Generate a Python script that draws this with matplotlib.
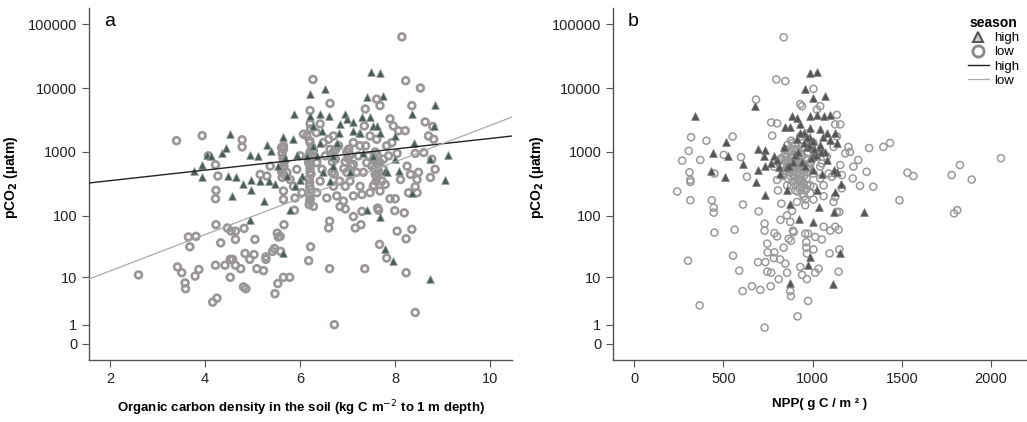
import numpy as np
import matplotlib
matplotlib.use("Agg")
import matplotlib.pyplot as plt
from matplotlib.lines import Line2D

plt.rcParams['font.family'] = ['Liberation Sans', 'DejaVu Sans']

# ---- panel a: soil organic carbon density (kg C m-2) vs pCO2 (uatm) ----
soc_low = [2.6, 3.40, 3.94, 3.42, 3.51, 3.58, 3.59, 3.65, 3.68, 3.81, 3.79, 3.87, 4.16, 4.25, 4.23, 4.22,
           4.23, 4.22, 4.22, 4.27, 4.07, 4.33, 4.42, 4.47, 4.53, 4.55, 4.58, 4.53, 4.64, 4.64, 4.64, 4.75,
           4.78, 4.78, 4.81, 4.86, 4.82, 4.84, 4.94, 5.03, 5.05, 5.09, 5.23, 5.28, 5.28, 5.16, 5.42, 5.46,
           5.47, 5.52, 5.54, 5.58, 5.59, 5.53, 5.65, 5.78, 5.66, 5.65, 5.65, 5.61, 5.66, 5.65, 5.61, 5.89,
           5.88, 6.04, 6.18, 6.22, 6.21, 6.27, 6.21, 6.42, 6.34, 6.63, 6.62, 6.60, 6.62, 6.56, 6.72, 7.12,
           7.16, 7.28, 7.36, 7.30, 7.30, 7.37, 7.61, 7.68, 7.63, 7.65, 7.67, 7.82, 7.89, 8.00, 7.99, 8.04,
           8.14, 8.22, 8.21, 8.19, 8.23, 8.23, 8.35, 8.42, 8.35, 8.53, 8.42, 8.46, 8.42, 8.28, 8.63, 8.60,
           8.70, 8.77, 8.74, 8.81, 8.84, 8.79, 8.07, 7.89, 7.96, 7.82, 7.86, 8.04, 8.25, 7.93, 7.75, 7.35,
           7.38, 7.44, 7.51, 7.61, 7.54, 7.68, 7.72, 7.79, 7.47, 7.26, 7.19, 7.23, 7.12, 7.02, 6.98, 6.95,
           6.91, 6.84, 6.95, 6.77, 6.70, 6.67, 6.74, 6.81, 6.63, 6.49, 6.53, 6.46, 6.42, 6.35, 6.28, 6.21,
           6.20, 6.21, 6.25, 6.21, 6.14, 6.07, 6.28, 6.35, 6.18, 6.60, 6.70, 7.12, 7.26, 7.47, 7.61, 7.33,
           7.40, 7.75, 7.68, 8.11, 8.46, 8.49, 8.32, 5.86, 5.93, 6.00, 5.72, 5.79, 5.30, 5.37, 6.83, 7.05,
           7.12,
           # dense cores
           6.19, 6.20, 6.21, 6.22, 6.20, 6.19, 6.23, 6.21, 6.20, 6.22, 6.19, 6.21, 6.24, 6.20, 6.22,
           5.62, 5.65, 5.63, 5.66, 5.64, 5.62, 5.65,
           7.55, 7.60, 7.62, 7.58, 7.65, 7.57, 7.63, 7.60, 7.55, 7.62, 7.58,
           6.95, 7.00, 7.05, 6.98, 7.02, 6.92, 7.08,
           6.65, 6.70, 6.75, 6.68, 6.72]
pco2_low_a = [11, 1500, 1800, 15, 12, 8, 6.3, 46, 32, 47, 10.5, 13.6, 3.5, 4.2, 72, 16,
              250, 185, 630, 420, 870, 37, 16, 64, 20, 57, 20, 10, 57, 42, 16, 14,
              1550, 1200, 6.8, 6.3, 63, 25, 20, 24, 42, 14, 13, 22, 20, 445, 27, 30,
              5.1, 53, 46, 47, 27, 7.8, 10, 10, 72, 245, 180, 500, 600, 1250, 1170, 190,
              122, 230, 19, 32, 4450, 13600, 2750, 2750, 2000, 5750, 82, 64, 14, 190, 1.0, 97,
              64, 72, 14, 117, 215, 4700, 6700, 5300, 132, 122, 35, 21, 185, 185, 120, 57,
              63000, 13000, 2150, 111, 43, 12, 61, 2.1, 5300, 10000, 950, 370, 285, 230, 2950, 980,
              1780, 770, 400, 1580, 535, 2500, 2150, 3300, 2550, 1250, 870, 950, 600, 1400, 770, 2550,
              1250, 870, 600, 420, 290, 245, 350, 310, 230, 290, 480, 870, 640, 1100, 480, 290,
              170, 140, 128, 205, 290, 480, 770, 1250, 1100, 1400, 870, 535, 350, 230, 140, 180,
              290, 480, 870, 1400, 1780, 1900, 1050, 680, 680, 1580, 1780, 1400, 1250, 1780, 1580, 480,
              680, 535, 680, 370, 230, 480, 445, 290, 535, 870, 480, 370, 420, 600, 350, 350,
              205,
              150, 170, 200, 260, 330, 380, 450, 550, 650, 750, 900, 1000, 1200, 1500, 2300,
              400, 450, 550, 700, 800, 950, 1100,
              300, 350, 400, 450, 500, 550, 650, 700, 800, 900, 1000,
              700, 800, 900, 1000, 1100, 550, 600,
              900, 1000, 1100, 700, 450]

soc_high = [3.77, 3.94, 3.94, 4.04, 4.12, 4.35, 4.44, 4.53, 4.49, 4.56, 4.65, 4.79, 4.95, 4.96, 4.96, 4.95,
            5.12, 5.16, 5.25, 5.30, 5.35, 5.38, 5.47, 5.54, 5.65, 5.65, 5.68, 5.72, 5.88, 5.86, 5.93, 5.89,
            5.79, 6.04, 6.21, 6.21, 6.42, 6.53, 6.60, 6.46, 6.28, 6.95, 6.84, 6.81, 7.11, 6.98, 7.12, 7.23,
            7.40, 7.47, 7.49, 7.67, 7.75, 7.54, 7.67, 7.99, 7.79, 8.09, 7.79, 7.96, 7.68, 8.35, 8.35, 8.39,
            8.74, 8.84, 8.81, 8.74, 9.05, 9.12, 7.40, 7.05, 6.63, 6.49, 6.70, 6.28, 6.35, 6.14, 7.33, 7.54,
            7.26, 7.82, 8.00, 6.77, 6.70, 6.00, 7.61, 7.30, 6.42]
pco2_high_a = [500, 400, 630, 910, 870, 980, 1170, 1900, 420, 205, 400, 310, 890, 255, 370, 87,
               870, 350, 170, 1300, 350, 1050, 310, 600, 1700, 25, 810, 420, 3900, 1600, 910, 290,
               125, 420, 8100, 3700, 3900, 9700, 3700, 2150, 2550, 3900, 2750, 2000, 2950, 3300, 2150, 2000,
               7200, 3500, 17800, 17400, 7400, 2550, 2000, 1800, 500, 500, 29, 19, 96, 3900, 230, 1400,
               9.5, 5500, 2550, 770, 360, 890, 125, 480, 350, 480, 600, 1250, 870, 870, 980, 870,
               2000, 480, 770, 1400, 870, 370, 2550, 3500, 1400]

# regression fits in log10(pCO2 + 1) space: intercept, slope
fit_high_a = [2.387, 0.0825]
fit_low_a = [0.572, 0.2844]

# ---- panel b: NPP (g C / m2) vs pCO2 (uatm) ----
npp_low = [241, 269, 306, 319, 310, 315, 315, 315, 302, 371, 405, 367, 435, 446, 446, 450,
           450, 502, 552, 599, 632, 610, 563, 554, 589, 608, 660, 707, 694, 698, 683, 731,
           731, 731, 735, 746, 748, 746, 765, 768, 783, 786, 801, 797, 847, 768, 801, 774,
           838, 818, 838, 847, 857, 810, 825, 806, 875, 879, 866, 879, 857, 890, 885, 916,
           931, 941, 959, 965, 965, 968, 968, 975, 975, 1005, 1015, 1015, 1034, 1052, 1062, 1095,
           1146, 1150, 1127, 1146, 1136, 1127, 1118, 1150, 1062, 1005, 912, 959, 1005, 931, 941, 1136,
           1043, 1024, 1155, 1136, 1127, 1201, 1183, 1229, 1256, 1303, 1266, 1340, 1317, 1397, 1434, 1487,
           1532, 1565, 1780, 1826, 1892, 1793, 1811, 2056, 1099, 1108, 1127, 1164, 1164, 1225, 1210, 1155,
           1090, 1062, 1043, 1005, 987, 959, 903, 894, 857, 838, 801, 783, 819, 857, 912, 885,
           931, 968, 1005, 1024, 1043, 987, 950, 912, 875, 847, 941, 968, 1005, 894, 922, 950,
           968, 885, 903, 941, 987, 1118, 1080, 1052, 820, 786, 875, 894, 987,
           # dense core
           860, 870, 880, 890, 900, 910, 920, 930, 940, 950, 960, 945, 935, 925, 915, 905,
           895, 885, 875, 865, 855, 845, 835, 825, 880, 890, 900, 910, 920, 930, 940, 950,
           960, 970, 980, 990, 870, 860, 850, 880, 900, 920, 940, 960, 950, 970, 840, 830,
           820, 810, 900, 910, 870, 860, 940, 955, 965, 925, 915, 905]
pco2_low_b = [240, 730, 1040, 1700, 480, 365, 175, 340, 19, 750, 1500, 3, 175, 134, 112, 54,
              460, 900, 1740, 830, 410, 150, 60, 23, 13, 5.7, 7, 6, 18, 117, 6600, 0.8,
              75, 58, 18, 36, 26, 12.5, 7, 12, 21, 53, 47, 13600, 12800, 2900, 2800, 1800,
              62000, 20, 31, 17, 12, 9.3, 155, 250, 5.7, 4.6, 43, 40, 101, 58, 119, 1.7,
              15, 11, 52, 38, 31, 25, 9.3, 52, 3.7, 29, 12, 46, 14, 42, 67, 25,
              12.5, 29, 67, 60, 115, 198, 165, 115, 203, 180, 165, 146, 9700, 5600, 5200, 3800,
              5200, 4600, 2700, 1750, 2700, 1200, 950, 590, 750, 490, 295, 285, 1150, 1200, 1380, 175,
              475, 420, 435, 625, 370, 109, 122, 800, 58, 410, 460, 435, 270, 385, 1000, 625,
              460, 300, 385, 285, 225, 270, 250, 410, 300, 460, 365, 590, 750, 850, 1080, 1380,
              1750, 1950, 1380, 850, 590, 660, 520, 590, 660, 1080, 850, 950, 460, 850, 365, 325,
              385, 490, 625, 1200, 1200, 1200, 850, 660, 86, 26, 80, 55, 300,
              600, 700, 800, 900, 650, 750, 550, 450, 350, 300, 250, 220, 400, 650, 850, 1000,
              1100, 500, 420, 380, 750, 900, 650, 800, 300, 350, 420, 480, 380, 330, 280, 200,
              180, 300, 600, 700, 1000, 1300, 1100, 1500, 1300, 1100, 900, 800, 650, 550, 500, 420,
              600, 700, 550, 620, 480, 560, 520, 430, 480, 270, 240, 300]

npp_high = [340, 443, 431, 513, 524, 509, 610, 675, 692, 735, 726, 692, 683, 735, 731, 768,
            783, 810, 847, 875, 885, 912, 931, 959, 987, 1024, 1005, 1071, 987, 1024, 1062, 1099,
            987, 1043, 1080, 1099, 1136, 1136, 1127, 1118, 1034, 1005, 922, 875, 875, 987, 972, 1112,
            1155, 1158, 1290, 857, 1005, 1043, 968, 1080, 1052, 1024, 950, 838, 820, 857, 801, 1118,
            1071, 1005, 1127, 987,
            900, 920, 940, 960, 980, 1000, 1010, 1020, 990, 970, 950, 930, 910, 890, 870, 1040,
            1060, 1050]
pco2_high_b = [3600, 980, 510, 1450, 870, 410, 650, 5300, 1100, 1070, 850, 520, 340, 215, 610, 680,
               850, 590, 2500, 2500, 3600, 3400, 2750, 9500, 17000, 17800, 7000, 7600, 3600, 3800, 3600, 3800,
               2400, 2250, 1950, 1550, 1380, 490, 240, 115, 138, 80, 90, 155, 8, 22, 16, 7.8,
               25, 320, 115, 250, 520, 1200, 1200, 750, 460, 250, 1950, 1200, 460, 590, 750, 520,
               1000, 850, 1950, 1630,
               900, 1000, 700, 600, 1300, 1500, 1100, 900, 800, 1700, 1400, 2000, 1600, 700, 600, 1300,
               1700, 1000]

yticks = [0, 1, 10, 100, 1000, 10000, 100000]


def fwd(y):
    return np.log10(np.asarray(y, dtype=float) + 1)


def inv(v):
    return 10 ** np.asarray(v, dtype=float) - 1


def style_axis(ax):
    ax.set_yscale('function', functions=(fwd, inv))
    ax.set_ylim(inv(-0.25), inv(5.25))
    ax.set_yticks(yticks)
    ax.set_yticklabels([str(t) for t in yticks])
    ax.spines['top'].set_visible(False)
    ax.spines['right'].set_visible(False)
    for s in ['left', 'bottom']:
        ax.spines[s].set_color('#555555')
        ax.spines[s].set_linewidth(1.0)
    ax.tick_params(direction='out', length=5, width=0.8, color='#555555',
                   labelsize=10.5, labelcolor='#222222')
    ax.minorticks_off()
    ax.set_ylabel('pCO$_\\mathbf{2}$ (µatm)', fontsize=10, fontweight='bold')
    ax.yaxis.set_label_coords(-0.163, 0.52)


fig = plt.figure(figsize=(10.27, 4.22), dpi=100)
ax1 = fig.add_axes([0.0867, 0.147, 0.412, 0.834])
ax2 = fig.add_axes([0.597, 0.147, 0.403, 0.834])

# panel a
ax1.scatter(soc_low, pco2_low_a, s=24, marker='o', facecolors='none',
            edgecolors='#9a9696', linewidths=1.9, zorder=2)
ax1.scatter(soc_high, pco2_high_a, s=30, marker='^', facecolors='#4b5a55',
            edgecolors='#8a9a94', linewidths=0.6, zorder=3)
xl = np.linspace(1.56, 10.46, 50)
ax1.plot(xl, inv(fit_high_a[0] + fit_high_a[1] * xl), color='#222222', lw=1.0, zorder=4)
ax1.plot(xl, inv(fit_low_a[0] + fit_low_a[1] * xl), color='#aaaaaa', lw=0.9, zorder=4)
style_axis(ax1)
ax1.set_xlim(1.56, 10.46)
ax1.set_xticks([2, 4, 6, 8, 10])
ax1.set_xlabel('Organic carbon density in the soil (kg C m$^{-2}$ to 1 m depth)',
               fontsize=9.5, fontweight='bold', labelpad=9)
ax1.text(0.035, 0.985, 'a', transform=ax1.transAxes, fontsize=14, va='top', ha='left')

# panel b
ax2.scatter(npp_low, pco2_low_b, s=26, marker='o', facecolors='none',
            edgecolors='#999999', linewidths=1.1, zorder=2)
ax2.scatter(npp_high, pco2_high_b, s=30, marker='^', facecolors='#555555',
            edgecolors='#777777', linewidths=0.6, zorder=3)
style_axis(ax2)
ax2.set_xlim(-118, 2202)
ax2.set_xticks([0, 500, 1000, 1500, 2000])
ax2.set_xlabel('NPP( g C / m ² )', fontsize=9.5, fontweight='bold', labelpad=9)
ax2.text(0.035, 0.985, 'b', transform=ax2.transAxes, fontsize=14, va='top', ha='left')

handles = [Line2D([], [], marker='^', ls='none', markerfacecolor='#cccccc', markeredgecolor='#555555',
                  markeredgewidth=1.5, markersize=7),
           Line2D([], [], marker='o', ls='none', markerfacecolor='none', markeredgecolor='#888888',
                  markeredgewidth=2, markersize=8),
           Line2D([], [], color='#222222', lw=1.0),
           Line2D([], [], color='#aaaaaa', lw=0.9)]
leg = ax2.legend(handles, ['high', 'low', 'high', 'low'], title='season', loc='upper right',
                 bbox_to_anchor=(1.0, 1.0), frameon=False, fontsize=9.5, handlelength=1.6,
                 handletextpad=0.4, labelspacing=0.15, borderaxespad=0.2)
leg.get_title().set_fontweight('bold')
leg.get_title().set_fontsize(10)

fig.savefig('out.png', dpi=100)
